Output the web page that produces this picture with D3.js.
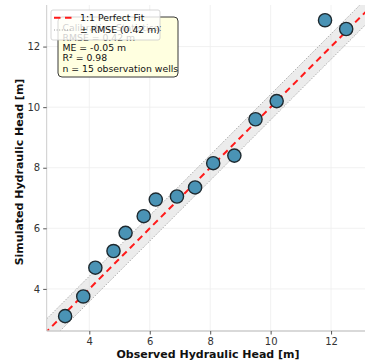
<!DOCTYPE html>
<html><head><meta charset="utf-8">
<script src="https://cdn.jsdelivr.net/npm/d3@7"></script>
<style>body{margin:0;background:#fff}svg{display:block}</style>
</head><body><svg id="c" width="365" height="363"></svg>
<script>
const observed = [3.2, 3.8, 4.2, 4.8, 5.2, 5.8, 6.2, 6.9, 7.5, 8.1, 8.8, 9.5, 10.2, 11.8, 12.5];
const simulated = [3.1, 3.75, 4.7, 5.25, 5.85, 6.4, 6.95, 7.05, 7.35, 8.15, 8.4, 9.6, 10.2, 12.87, 12.58];
const ticks = [4, 6, 8, 10, 12];
const rmse = 0.42;
const statsLines = ["Calibration Statistics:", "RMSE = 0.42 m", "ME = -0.05 m", "R\u00b2 = 0.98", "n = 15 observation wells"];
const legendLabels = ["1:1 Perfect Fit", "\u00b1 RMSE (0.42 m)"];

const svg = d3.select("#c");
const L = 46.7, B = 331, T = 5;
const x = d3.scaleLinear().domain([2.59, 13.4]).range([L, L + (13.4 - 2.59) * 30.22]);
const y = d3.scaleLinear().domain([2.61, 13.38]).range([B, B - (13.38 - 2.61) * 30.29]);
const R = 365;
const font = "DejaVu Sans, sans-serif";

svg.append("defs").append("clipPath").attr("id", "clip")
  .append("rect").attr("x", L).attr("y", T).attr("width", R - L).attr("height", B - T);

// grid
const g = svg.append("g");
g.selectAll(".gx").data(ticks).join("line")
  .attr("x1", d => x(d)).attr("x2", d => x(d)).attr("y1", T).attr("y2", B)
  .attr("stroke", "#eeeeee").attr("stroke-width", 0.8);
g.selectAll(".gy").data(ticks).join("line")
  .attr("x1", L).attr("x2", R).attr("y1", d => y(d)).attr("y2", d => y(d))
  .attr("stroke", "#eeeeee").attr("stroke-width", 0.8);

const p = svg.append("g").attr("clip-path", "url(#clip)");
const lo = 2.0, hi = 14.0;
// band
const band = [[lo, lo - rmse], [hi, hi - rmse], [hi, hi + rmse], [lo, lo + rmse]];
p.append("path").attr("d", "M" + band.map(d => [x(d[0]), y(d[1])].join(",")).join("L") + "Z")
  .attr("fill", "#cfcfcf").attr("fill-opacity", 0.4);
[-rmse, rmse].forEach(o => {
  p.append("line").attr("x1", x(lo)).attr("y1", y(lo + o)).attr("x2", x(hi)).attr("y2", y(hi + o))
    .attr("stroke", "#999").attr("stroke-width", 1).attr("stroke-dasharray", "1,1.6");
});
p.append("line").attr("x1", x(lo)).attr("y1", y(lo)).attr("x2", x(hi)).attr("y2", y(hi))
  .attr("stroke", "#ff1a1a").attr("stroke-width", 2).attr("stroke-dasharray", "6.5,4.5");

// points
p.selectAll("circle").data(observed).join("circle")
  .attr("cx", d => x(d)).attr("cy", (d, i) => y(simulated[i])).attr("r", 6.6)
  .attr("fill", "#4a93b5").attr("stroke", "#1e2a30").attr("stroke-width", 1.4);

// spines
svg.append("line").attr("x1", L).attr("x2", L).attr("y1", T).attr("y2", B).attr("stroke", "#cccccc").attr("stroke-width", 1);
svg.append("line").attr("x1", L).attr("x2", R).attr("y1", B).attr("y2", B).attr("stroke", "#cccccc").attr("stroke-width", 1.6);

// axes ticks
const xa = svg.append("g").attr("transform", `translate(0,${B})`).call(d3.axisBottom(x).tickValues(ticks).tickSize(3.5).tickPadding(3));
const ya = svg.append("g").attr("transform", `translate(${L},0)`).call(d3.axisLeft(y).tickValues(ticks).tickSize(3.5).tickPadding(3));
[xa, ya].forEach(a => {
  a.select(".domain").remove();
  a.selectAll("line").attr("stroke", "#555");
  a.selectAll("text").attr("font-family", font).attr("font-size", 10).attr("fill", "#333");
});

// labels
svg.append("text").attr("x", 208).attr("y", 358).attr("text-anchor", "middle")
  .attr("font-family", font).attr("font-weight", "bold").attr("font-size", 11).attr("fill", "#111")
  .text("Observed Hydraulic Head [m]");
svg.append("text").attr("transform", "translate(23,172) rotate(-90)").attr("text-anchor", "middle")
  .attr("font-family", font).attr("font-weight", "bold").attr("font-size", 11).attr("fill", "#111")
  .text("Simulated Hydraulic Head [m]");

// stats box
svg.append("rect").attr("x", 58).attr("y", 17).attr("width", 120).attr("height", 60).attr("rx", 4)
  .attr("fill", "#ffffe0").attr("stroke", "#222").attr("stroke-width", 0.9);
svg.append("g").selectAll("text").data(statsLines).join("text")
  .attr("x", 62.5).attr("y", (d, i) => 30.5 + i * 10.3)
  .attr("font-family", font).attr("font-size", 9.3).attr("fill", "#111").text(d => d);

// legend
svg.append("rect").attr("x", 51).attr("y", 10).attr("width", 109).attr("height", 30).attr("rx", 2)
  .attr("fill", "#fff").attr("fill-opacity", 0.8).attr("stroke", "#cccccc").attr("stroke-width", 0.8);
svg.append("line").attr("x1", 54).attr("x2", 72).attr("y1", 17.7).attr("y2", 17.7)
  .attr("stroke", "#ff1a1a").attr("stroke-width", 2).attr("stroke-dasharray", "6.5,4.5");
svg.append("line").attr("x1", 54).attr("x2", 72).attr("y1", 30).attr("y2", 30)
  .attr("stroke", "#999").attr("stroke-width", 1).attr("stroke-dasharray", "1,1.6");
svg.append("g").selectAll("text").data(legendLabels).join("text")
  .attr("x", 80).attr("y", (d, i) => 21 + i * 12.3)
  .attr("font-family", font).attr("font-size", 9.3).attr("fill", "#111").text(d => d);
</script></body></html>
